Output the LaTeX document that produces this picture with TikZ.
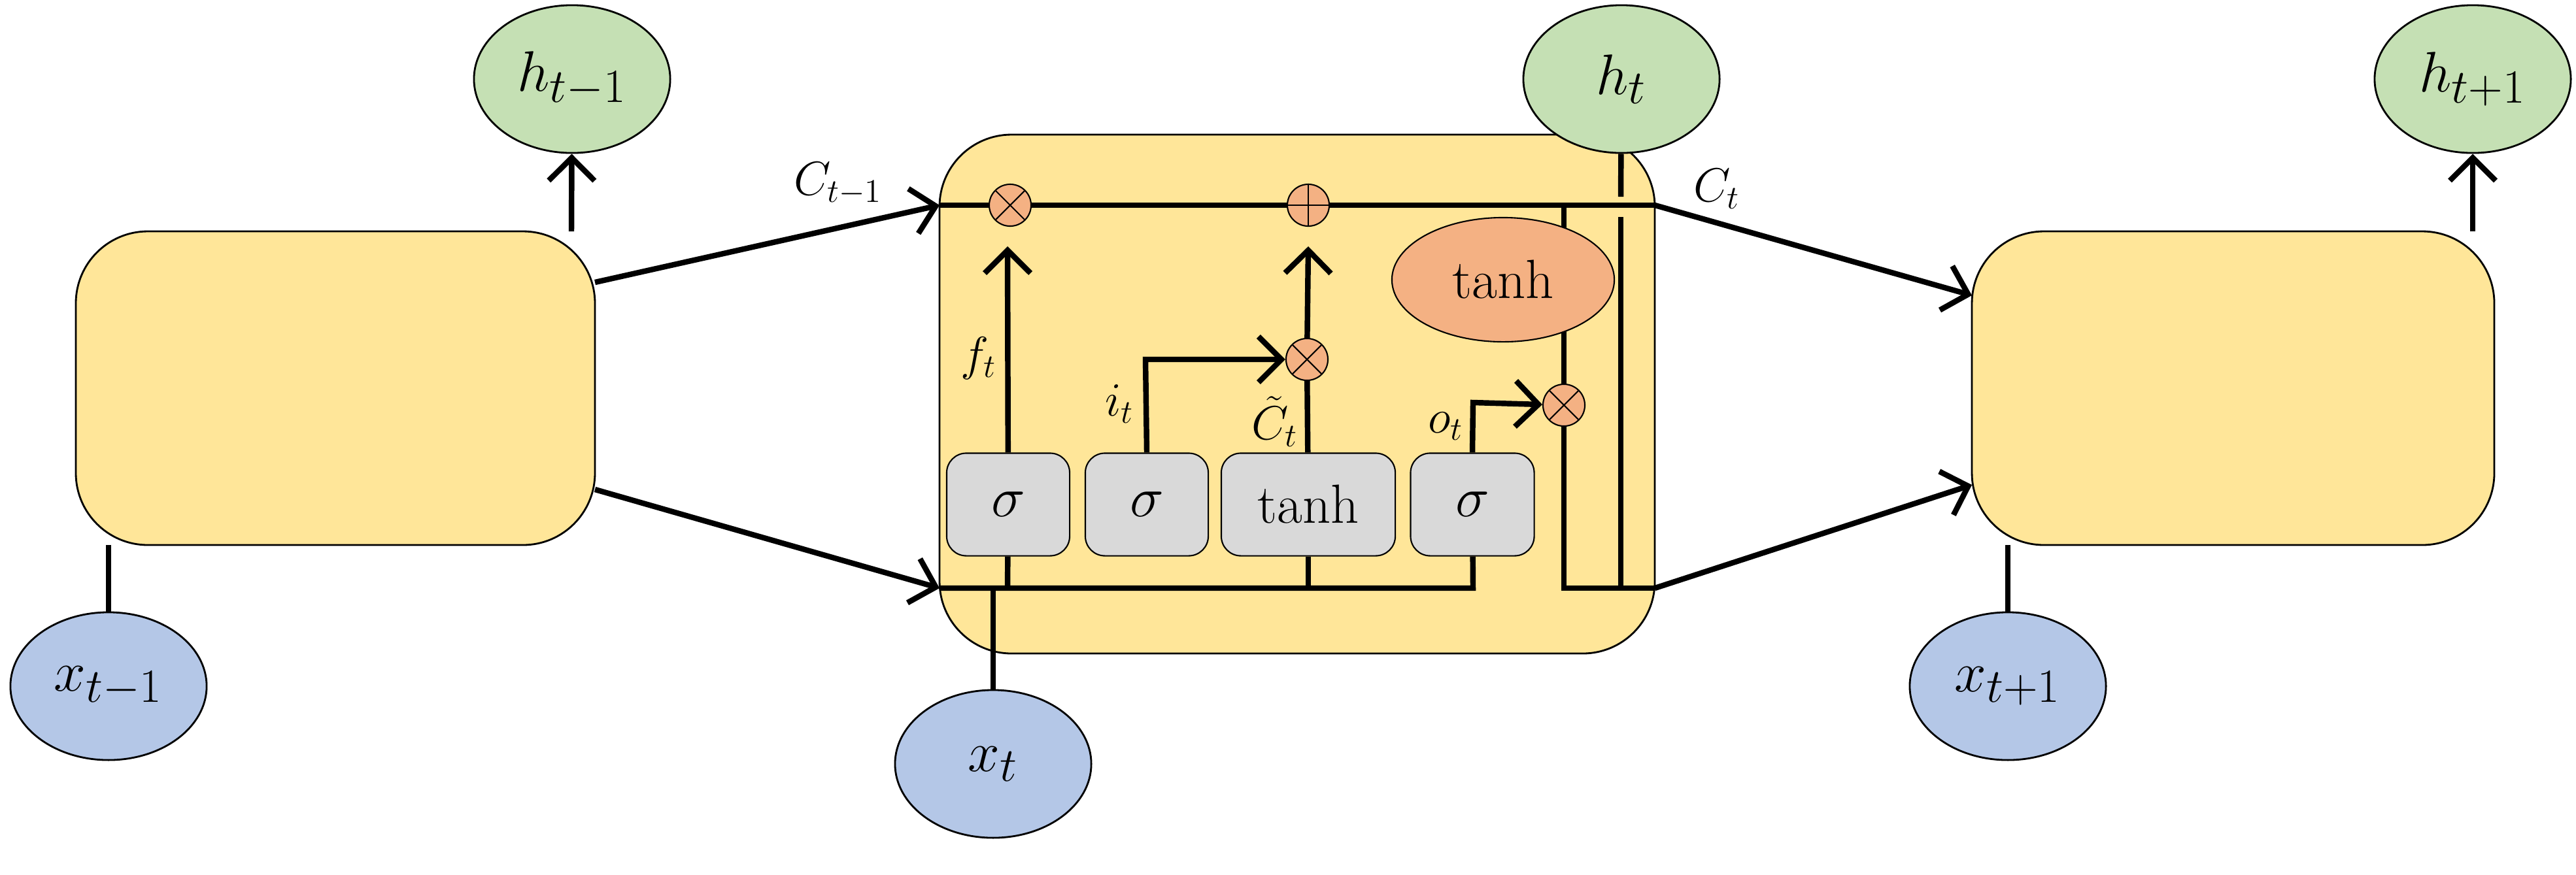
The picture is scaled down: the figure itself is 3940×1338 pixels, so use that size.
\documentclass[tikz,border=0pt]{standalone}
\usetikzlibrary{arrows.meta,shapes.geometric}
\definecolor{cellyellow}{HTML}{FFE699}
\definecolor{hgreen}{HTML}{C5E0B4}
\definecolor{xblue}{HTML}{B4C7E7}
\definecolor{oporange}{HTML}{F4B183}
\definecolor{gategray}{HTML}{D9D9D9}
\begin{document}
\begin{tikzpicture}[
  x=0.01cm, y=-0.01cm,
  every node/.style = {font=\fontsize{24}{28}\selectfont},
  cell/.style = {draw, fill=cellyellow, rounded corners=1.1cm, line width=0.8pt},
  gate/.style = {draw, fill=gategray, rounded corners=0.3cm, minimum height=1.57cm, line width=0.6pt},
  hstate/.style = {draw, ellipse, fill=hgreen, minimum width=3cm, minimum height=2.26cm, line width=0.8pt, font=\fontsize{30}{34}\selectfont},
  xin/.style = {hstate, fill=xblue},
  op/.style = {draw, circle, fill=oporange, minimum size=0.64cm, inner sep=0pt, line width=0.6pt},
  mult/.style = {op, path picture={\draw[line width=0.6pt] (path picture bounding box.north west) -- (path picture bounding box.south east) (path picture bounding box.north east) -- (path picture bounding box.south west);}},
  add/.style = {op, path picture={\draw[line width=0.6pt] (path picture bounding box.north) -- (path picture bounding box.south) (path picture bounding box.east) -- (path picture bounding box.west);}},
  flow/.style = {line width=2.4pt},
  arr/.style = {flow, -{Straight Barb[length=0.35cm, width=0.7cm, line width=2.4pt]}},
  lab/.style = {font=\fontsize{20}{24}\selectfont}
]
\useasboundingbox (0,0) rectangle (3940,1338);
% cells
\draw[cell] (116,354) rectangle (910,834);
\draw[cell] (1437,206) rectangle (2531,1000);
\draw[cell] (3016,354) rectangle (3815,834);
% states
\node[hstate] (hprev) at (875,121) {$h_{t-1}$};
\node[hstate] (hcur) at (2480,121) {$h_t$};
\node[hstate] (hnext) at (3782,121) {$h_{t+1}$};
\node[xin] (xprev) at (166,1050) {$x_{t-1}$};
\node[xin] (xcur) at (1519,1169) {$x_t$};
\node[xin] (xnext) at (3071,1050) {$x_{t+1}$};
% gates
\node[gate, minimum width=1.88cm] (fgate) at (1542,772) {$\sigma$};
\node[gate, minimum width=1.88cm] (igate) at (1754,772) {$\sigma$};
\node[gate, minimum width=2.66cm] (cgate) at (2001,772) {tanh};
\node[gate, minimum width=1.89cm] (ogate) at (2252,772) {$\sigma$};
% pointwise ops
\node[mult] (mf) at (1545,314) {};
\node[add] (pc) at (2001,314) {};
\node[mult] (mi) at (1999,550) {};
\node[mult] (mo) at (2392,620) {};
% anchors
\coordinate (cin) at (1437,314);
\coordinate (hin) at (1437,900);
\coordinate (cout) at (2531,314);
\coordinate (hout) at (2531,900);
\coordinate (hbot) at (2253,900);
% cell state
\draw[flow] (cin) -- (mf) -- (pc) -- (cout);
\draw[flow] (2392,314) -- (2392,360);
\draw[flow] (2392,500) -- (mo);
\draw[flow] (mo) -- (2392,900) -- (hout);
\draw[flow] (hcur) -- (2479,301);
\draw[flow] (2479,332) -- (2479,900);
\node[draw, ellipse, fill=oporange, minimum width=3.4cm, minimum height=1.9cm, line width=0.6pt] (tanhc) at (2299,428) {tanh};
% gate outputs
\draw[arr] (fgate) -- (1541,377);
\draw[arr] (igate.north) -- (1752,550) -- (mi);
\draw[flow] (cgate) -- (mi);
\draw[arr] (mi) -- (2001,377);
\draw[arr] (ogate.north) -- (2253,616) -- (mo);
% hidden input bus
\draw[flow] (hin) -- (hbot) -- (ogate);
\draw[flow] (fgate) -- (1541,900);
\draw[flow] (cgate) -- (2001,900);
\draw[flow] (xcur) -- (1519,900);
% labels
\node[lab] at (1497,548) {$f_t$};
\node[lab] at (1712,618) {$i_t$};
\node[lab] at (1950,645) {$\tilde{C}_t$};
\node[lab] at (2211,652) {$o_t$};
\node[lab] at (1282,281) {$C_{t-1}$};
\node[lab] at (2626,289) {$C_t$};
% between cells
\draw[arr] (910,432) -- (cin);
\draw[arr] (910,749) -- (hin);
\draw[arr] (cout) -- (3016,452);
\draw[arr] (hout) -- (3016,742);
\draw[arr] (874,354) -- (hprev);
\draw[arr] (3782,354) -- (hnext);
\draw[flow] (166,834) -- (xprev);
\draw[flow] (3071,834) -- (xnext);
\end{tikzpicture}
\end{document}
